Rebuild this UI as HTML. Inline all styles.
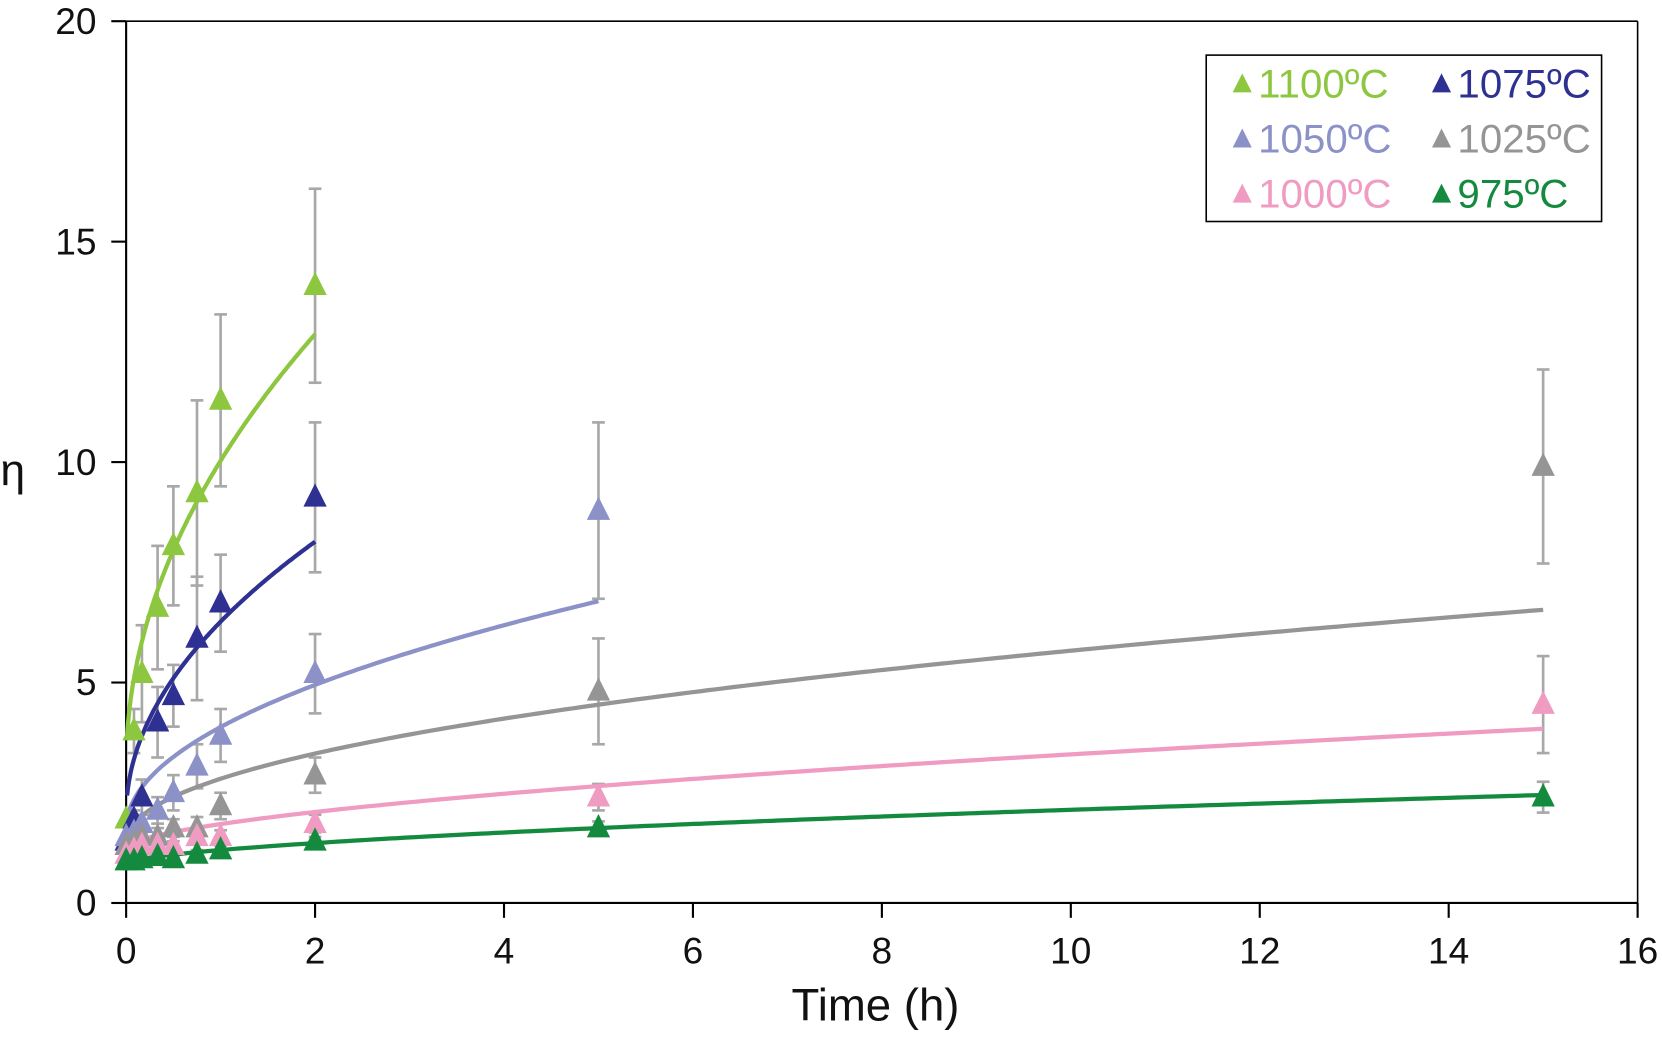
<!DOCTYPE html>
<html><head><meta charset="utf-8"><style>
html,body{margin:0;padding:0;background:#fff;}
svg{display:block;font-family:"Liberation Sans",sans-serif;}
</style></head><body>
<svg id="chart" width="1662" height="1045" viewBox="0 0 1568 986" preserveAspectRatio="none"></svg>
<script>
const times = [0, 0.083, 0.167, 0.333, 0.5, 0.75, 1, 2, 5, 15];
const seriesNames = ["1100ºC","1075ºC","1050ºC","1025ºC","1000ºC","975ºC"];
const v1100 = [1.9, 3.9, 5.2, 6.7, 8.1, 9.3, 11.4, 14.0, null, null];
const v1075 = [1.4, 1.9, 2.4, 4.1, 4.7, 6.0, 6.8, 9.2, null, null];
const v1050 = [1.5, 1.6, 1.8, 2.1, 2.5, 3.1, 3.8, 5.2, 8.9, null];
const v1025 = [1.3, 1.4, 1.5, 1.5, 1.7, 1.7, 2.2, 2.9, 4.8, 9.9];
const v1000 = [1.1, 1.2, 1.3, 1.3, 1.3, 1.5, 1.5, 1.8, 2.4, 4.5];
const v975  = [0.95, 0.95, 1.0, 1.05, 1.0, 1.1, 1.2, 1.4, 1.7, 2.4];
const e1100 = [0, 0.5, 1.1, 1.4, 1.35, 2.1, 1.95, 2.2, 0, 0];
const e1075 = [0, 0.2, 0.4, 0.8, 0.7, 1.4, 1.1, 1.7, 0, 0];
const e1050 = [0, 0.1, 0.2, 0.3, 0.4, 0.5, 0.6, 0.9, 2.0, 0];
const e1025 = [0, 0.1, 0.15, 0.2, 0.2, 0.25, 0.3, 0.4, 1.2, 2.2];
const e1000 = [0, 0.1, 0.1, 0.1, 0.1, 0.15, 0.15, 0.2, 0.3, 1.1];
const e975  = [0, 0.05, 0.05, 0.05, 0.05, 0.1, 0.1, 0.1, 0.15, 0.35];
// fit curve y = a + b * t^c, drawn up to tMax
const fitA = [3.1, 2.0, 1.68, 1.35, 1.26, 0.895];
const fitB = [6.93, 4.38, 2.31, 1.468, 0.53, 0.306];
const fitC = [0.5, 0.5, 0.5, 0.474, 0.6, 0.6];
const fitMax = [2, 2, 5, 15, 15, 15];
const xTicks = [0,2,4,6,8,10,12,14,16];
const yTicks = [0,5,10,15,20];

const colors = ["#8dc63f","#2e3192","#8c91c8","#959595","#f09bc1","#138a3e"];
const vals = [v1100,v1075,v1050,v1025,v1000,v975];
const errs = [e1100,e1075,e1050,e1025,e1000,e975];
const X0=119, X1=1545, Y0=852, Y1=20;
const xs = t => X0 + (t/16)*(X1-X0);
const ys = v => Y0 - (v/20)*(Y0-Y1);
const svg = document.getElementById('chart');
const NS = "http://www.w3.org/2000/svg";
function mk(tag, attrs, parent){const e=document.createElementNS(NS,tag);for(const k in attrs)e.setAttribute(k,attrs[k]);(parent||svg).appendChild(e);return e;}

// axes
let ax = mk('line',{x1:X0,y1:Y1,x2:X0,y2:Y0,stroke:'#000','stroke-width':2});


let axx = mk('line',{x1:X0,y1:Y0,x2:X1,y2:Y0,stroke:'#000','stroke-width':2});


mk('line',{x1:X0,y1:Y1,x2:X1,y2:Y1,stroke:'#000','stroke-width':1.5});
mk('line',{x1:X1,y1:Y1,x2:X1,y2:Y0,stroke:'#000','stroke-width':1.5});
yTicks.forEach(v=>{
  mk('line',{x1:X0-14,y1:ys(v),x2:X0,y2:ys(v),stroke:'#000','stroke-width':2});
  const t=mk('text',{x:X0-28,y:ys(v)+12,'text-anchor':'end','font-size':35,fill:'#111'});
  t.textContent=v;
  
  
});
xTicks.forEach(v=>{
  mk('line',{x1:xs(v),y1:Y0,x2:xs(v),y2:Y0+14,stroke:'#000','stroke-width':2});
  const t=mk('text',{x:xs(v),y:Y0+57,'text-anchor':'middle','font-size':35,fill:'#111'});
  t.textContent=v;
  
  
});
let xt=mk('text',{x:826,y:963,'text-anchor':'middle','font-size':43,fill:'#111'});
xt.textContent='Time (h)';


let yt=mk('text',{x:12,y:458,'text-anchor':'middle','font-size':42,fill:'#111'});
yt.textContent='η';



function tri(cx,cy,s,color,parent){
  return mk('polygon',{points:`${cx},${cy-s*0.6} ${cx-s/2},${cy+s*0.4} ${cx+s/2},${cy+s*0.4}`,fill:color},parent);
}

// error bars
vals.forEach((arr,si)=>{
  arr.forEach((v,i)=>{
    const e=errs[si][i];
    if(v==null||!e) return;
    const g=mk('g',{stroke:'#a8a8a8','stroke-width':2.5});
    
    
    const x=xs(times[i]);
    mk('line',{x1:x,y1:ys(v+e),x2:x,y2:ys(v-e)},g);
    mk('line',{x1:x-6,y1:ys(v+e),x2:x+6,y2:ys(v+e)},g);
    mk('line',{x1:x-6,y1:ys(v-e),x2:x+6,y2:ys(v-e)},g);
  });
});
// fit curves
fitA.forEach((a,si)=>{
  let d='';
  const N=200;
  for(let k=0;k<=N;k++){
    const t=0.01+(fitMax[si]-0.01)*k/N;
    const y=a+fitB[si]*Math.pow(t,fitC[si]);
    d+=(k?'L':'M')+xs(t).toFixed(1)+','+ys(y).toFixed(1);
  }
  const p=mk('path',{d:d,fill:'none',stroke:colors[si],'stroke-width':4});
  
  
});
// markers
vals.forEach((arr,si)=>{
  arr.forEach((v,i)=>{
    if(v==null) return;
    const m=tri(xs(times[i]),ys(v),22,colors[si]);
    
    
  });
});
// legend
const lg=mk('g',{});


mk('rect',{x:1138,y:52,width:373,height:157,fill:'#fff',stroke:'#000','stroke-width':1.5},lg);
seriesNames.forEach((n,si)=>{
  const col=si%2, row=Math.floor(si/2);
  const x=col?1360:1172, y=78+row*52;
  const e=mk('g',{},lg);
  
  
  tri(x,y+2,18,colors[si],e);
  const t=mk('text',{x:x+15,y:y+14,'font-size':38,fill:colors[si]},e);
  t.textContent=n;
});
</script>
</body></html>
